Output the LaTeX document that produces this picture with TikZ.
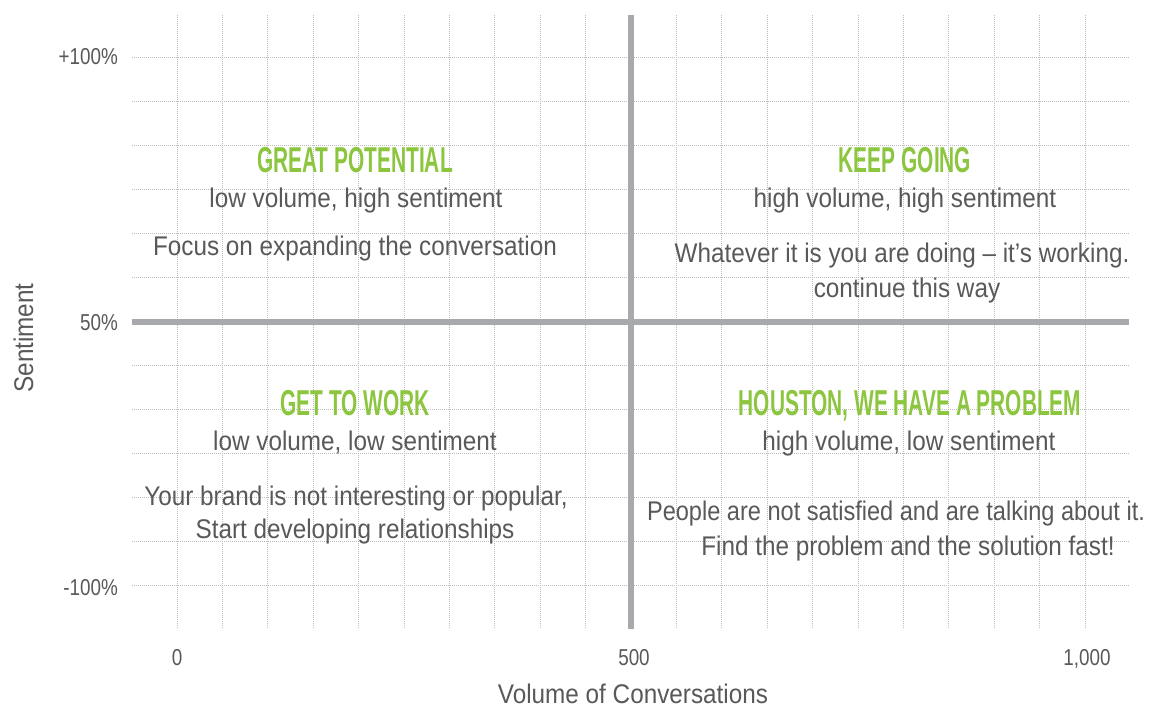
\documentclass[tikz,border=0pt]{standalone}
\usepackage{fontspec}
\setmainfont{Liberation Sans}[FakeStretch=0.9]
\newfontfamily\headfont{Liberation Sans}[FakeStretch=0.58]
\newfontfamily\tickfont{Liberation Sans}[FakeStretch=0.82]
\definecolor{txtgray}{HTML}{58595B}
\definecolor{gridgray}{HTML}{BDBDBD}
\definecolor{axisgray}{HTML}{A7A9AC}
\definecolor{leafgreen}{HTML}{8CC63F}

\tikzset{
  gridline/.style={gridgray, line width=0.8pt, dash pattern=on 1pt off 1pt},
  axisline/.style={axisgray, line width=5.5pt},
  heading/.style={anchor=base, inner sep=0pt, text=leafgreen,
    font=\headfont\bfseries\fontsize{36}{40}\selectfont},
  body/.style={anchor=base, inner sep=0pt, text=txtgray,
    font=\fontsize{27}{32}\selectfont},
  tick/.style={anchor=base, inner sep=0pt, text=txtgray,
    font=\tickfont\fontsize{23}{26}\selectfont},
}

\begin{document}
\begin{tikzpicture}[x=1pt, y=-1pt]
    \useasboundingbox[fill=white] (0,0) rectangle (1172,711);

    %========================
    % grid
    %========================
    \foreach \i in {0,...,9,11,12,...,20}
        \draw[gridline] ({177+45.4*\i},15) -- ({177+45.4*\i},629);
    \foreach \j in {0,...,5,7,8,...,12}
        \draw[gridline] (132,{57+44*\j}) -- (1129,{57+44*\j});

    % the two axes through (500, 50%)
    \coordinate (vtop) at (631,15);
    \coordinate (vbot) at (631,629);
    \coordinate (hleft) at (132,322);
    \coordinate (hright) at (1129,322);
    \draw[axisline] (hleft) -- (hright);
    \draw[axisline] (vtop) -- (vbot);

    %========================
    % ticks and axis titles
    %========================
    \node[tick, anchor=base east] (yhigh) at (118,65) {+100\%};
    \node[tick, anchor=base east] (ymid) at (118,330) {50\%};
    \node[tick, anchor=base east] (ylow) at (118,595) {-100\%};
    \node[tick] (xzero) at (177,665) {0};
    \node[tick] (xmid) at (634,665) {500};
    \node[tick] (xmax) at (1087,665) {1,000};
    \node[body] (xtitle) at (633,703) {Volume of Conversations};
    \node[body, rotate=90] (ytitle) at (33,338) {Sentiment};

    %========================
    % top left
    %========================
    \node[heading] (potential) at (355,173) {GREAT POTENTIAL};
    \node[body] (potentialsub) at (356,208) {low volume, high sentiment};
    \node[body] (potentialtip) at (355,256) {Focus on expanding the conversation};

    %========================
    % top right
    %========================
    \node[heading] (going) at (905,173) {KEEP GOING};
    \node[body] (goingsub) at (905,208) {high volume, high sentiment};
    \node[body] (goingtip) at (902,262) {Whatever it is you are doing -- it’s working.};
    \node[body] (goingtipb) at (907,298) {continue this way};

    %========================
    % bottom left
    %========================
    \node[heading] (work) at (355,415) {GET TO WORK};
    \node[body] (worksub) at (355,450) {low volume, low sentiment};
    \node[body] (worktip) at (356,505) {Your brand is not interesting or popular,};
    \node[body] (worktipb) at (355,538) {Start developing relationships};

    %========================
    % bottom right
    %========================
    \node[heading] (problem) at (910,415) {HOUSTON, WE HAVE A PROBLEM};
    \node[body] (problemsub) at (909,450) {high volume, low sentiment};
    \node[body, xscale=0.97] (problemtip) at (896,520) {People are not satisfied and are talking about it.};
    \node[body] (problemtipb) at (908,555) {Find the problem and the solution fast!};

\end{tikzpicture}
\end{document}
